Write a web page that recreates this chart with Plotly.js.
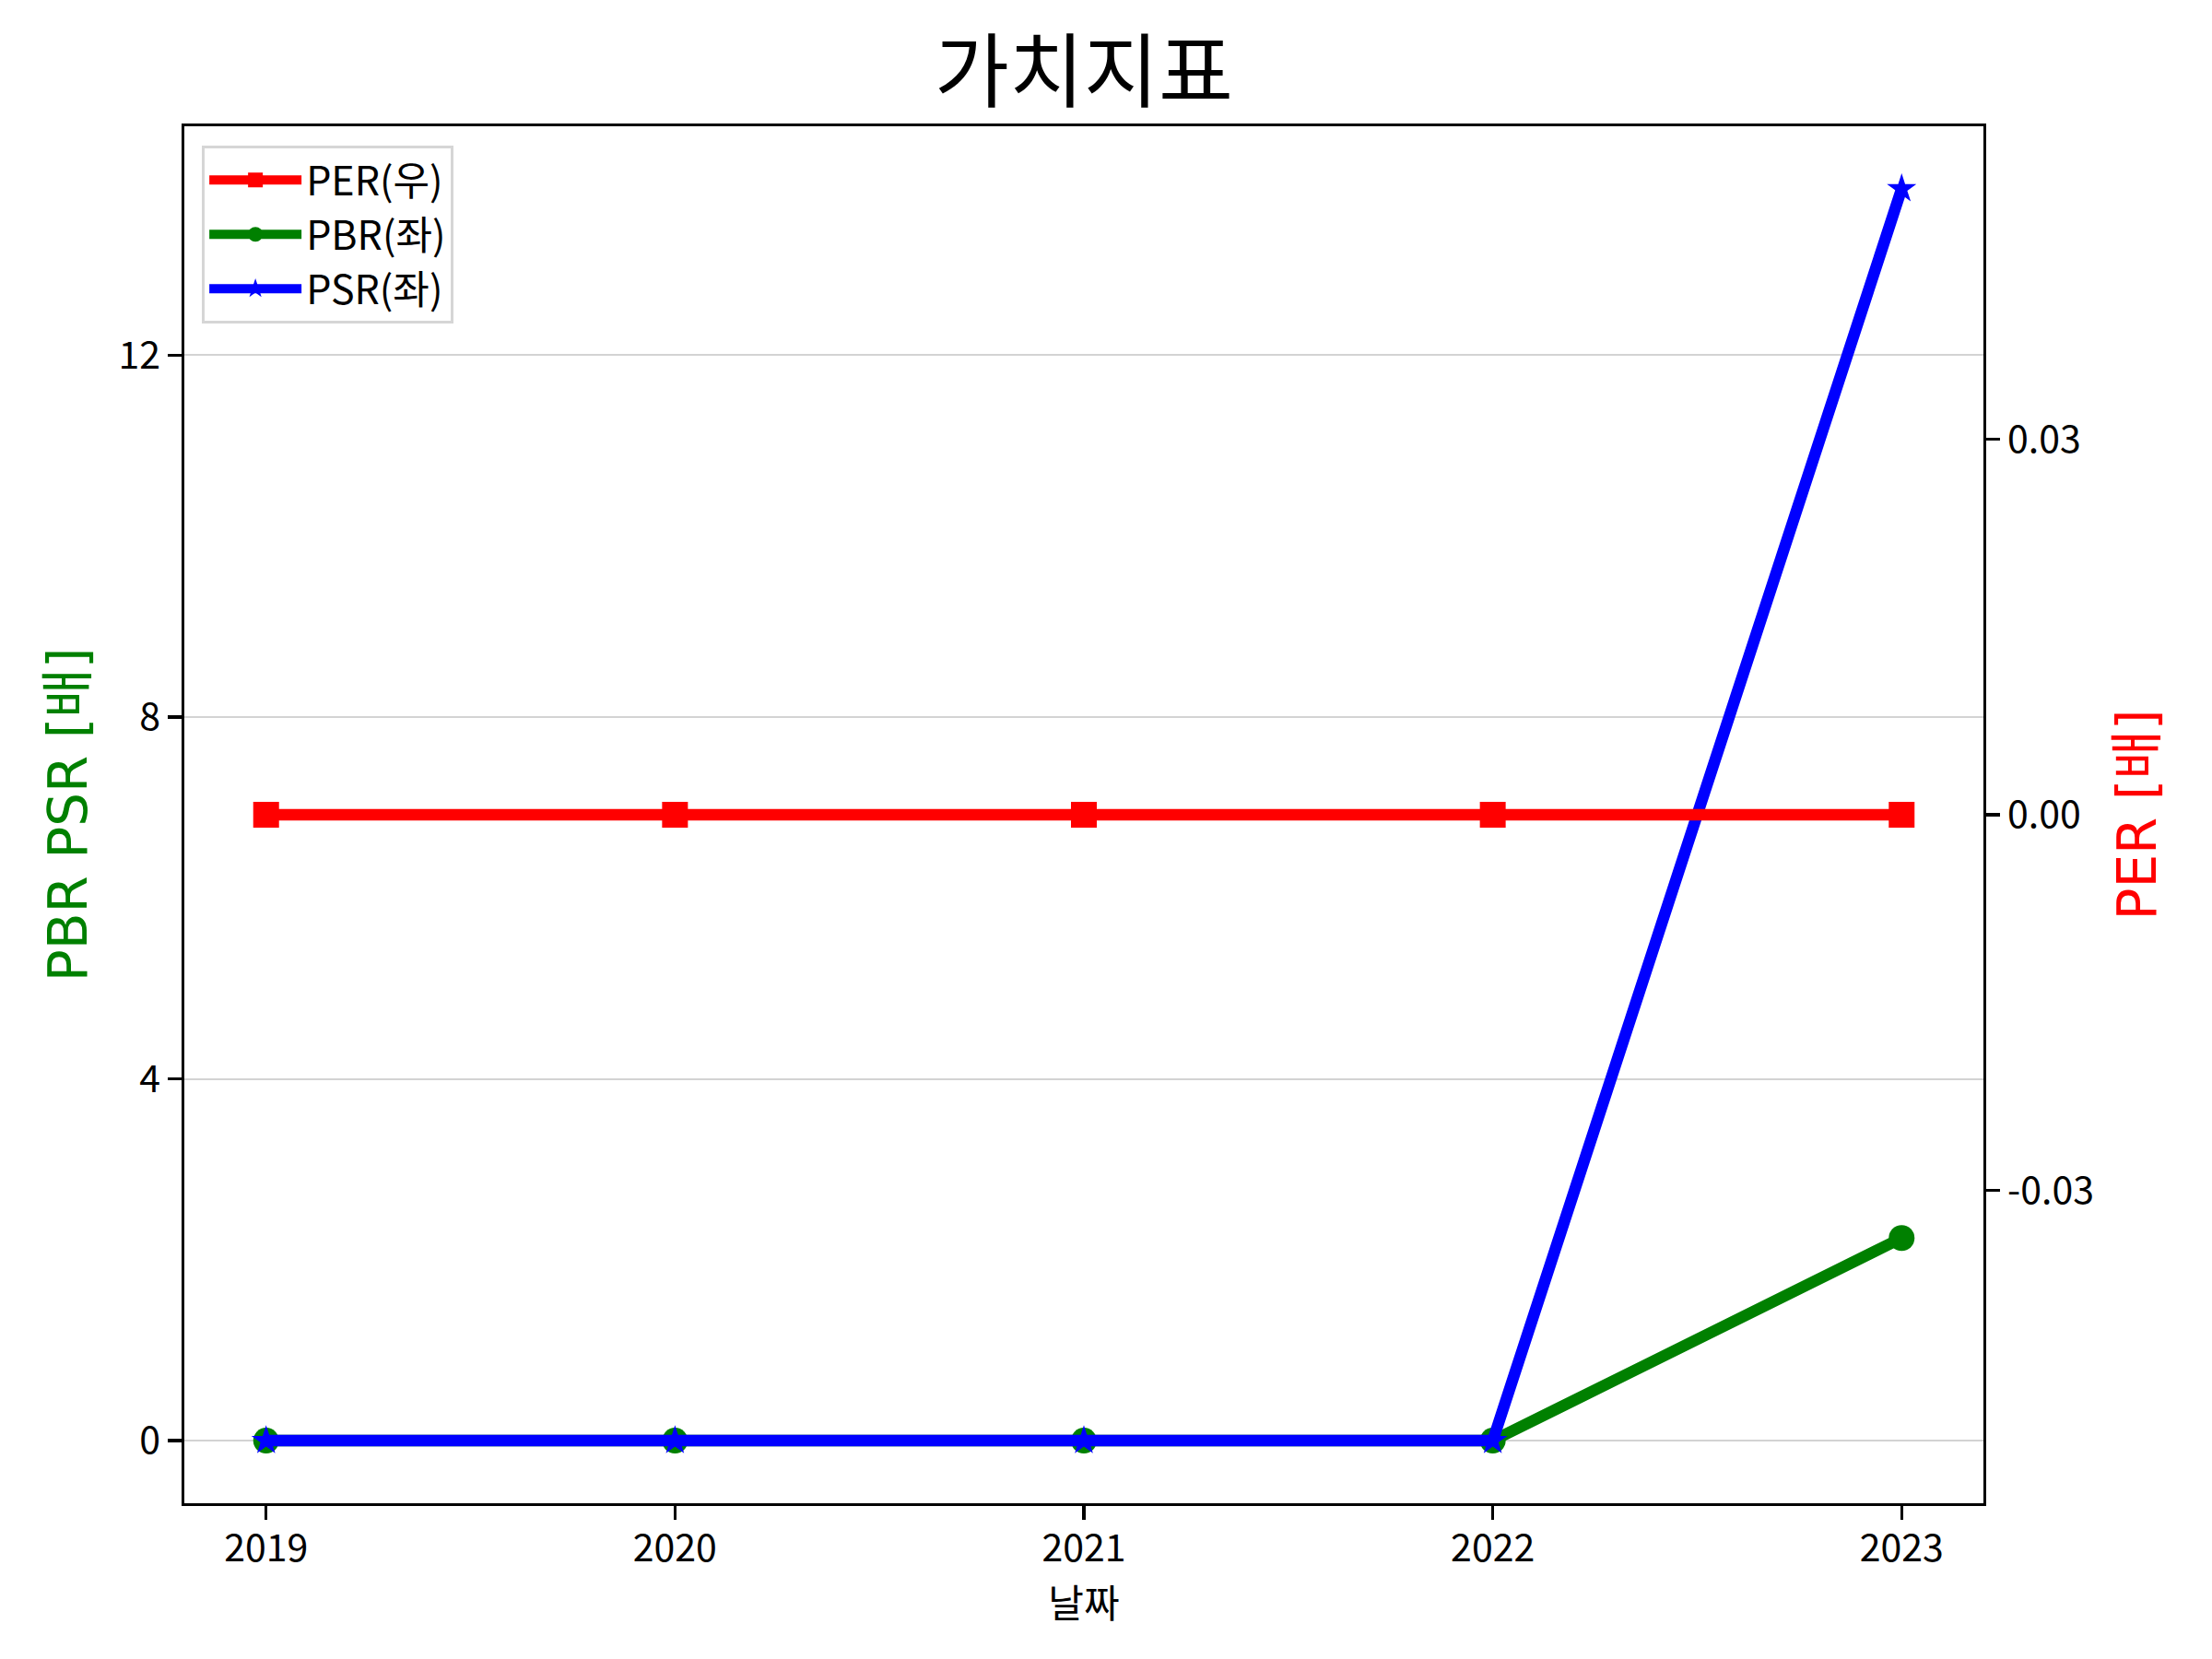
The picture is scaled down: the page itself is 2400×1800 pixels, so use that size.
<!DOCTYPE html>
<html>
<head>
<meta charset="utf-8">
<script src="https://cdn.plot.ly/plotly-3.0.1.min.js"></script>
<style>html,body{margin:0;padding:0;background:#fff;}</style>
</head>
<body>
<div id="chart" style="width:2400px;height:1800px;"></div>
<script>
const years = [2019, 2020, 2021, 2022, 2023];
const perValues = [0, 0, 0, 0, 0];
const pbrValues = [0, 0, 0, 0, 2.24];
const psrValues = [0, 0, 0, 0, 13.84];
const leftTicks = [0, 4, 8, 12];
const rightTicks = [-0.03, 0, 0.03];
const rightTickText = ['-0.03', '0.00', '0.03'];
const yearTickText = ['2019', '2020', '2021', '2022', '2023'];

const tickFont = {family: 'Noto Sans CJK KR, Open Sans, sans-serif', size: 41, color: '#000'};
const labelFont = 'DejaVu Sans, Noto Sans CJK KR, sans-serif';

const leftMax = Math.max(...pbrValues, ...psrValues);
const leftMin = Math.min(...pbrValues, ...psrValues);
const span = leftMax - leftMin;

const traces = [
  {
    x: years, y: pbrValues, name: 'PBR(좌)', type: 'scatter', mode: 'lines+markers',
    line: {color: 'green', width: 12.5}, marker: {symbol: 'circle', size: 28, color: 'green'},
    yaxis: 'y', legendrank: 2
  },
  {
    x: years, y: psrValues, name: 'PSR(좌)', type: 'scatter', mode: 'lines+markers',
    line: {color: 'blue', width: 12.5}, marker: {symbol: 'star', size: 24, color: 'blue'},
    yaxis: 'y', legendrank: 3
  },
  {
    x: years, y: perValues, name: 'PER(우)', type: 'scatter', mode: 'lines+markers',
    line: {color: 'red', width: 12.5}, marker: {symbol: 'square', size: 28, color: 'red'},
    yaxis: 'y2', legendrank: 1
  }
];

const layout = {
  width: 2400, height: 1800,
  paper_bgcolor: '#fff', plot_bgcolor: '#fff',
  margin: {l: 200, r: 248, t: 137, b: 169, pad: 0},
  showlegend: true,
  title: {
    text: '가치지표', x: 0.5, xref: 'paper', xanchor: 'center',
    y: 1 - 78 / 1800, yref: 'container', yanchor: 'middle',
    font: {family: 'Noto Sans CJK KR, sans-serif', size: 88, color: '#000'}
  },
  xaxis: {
    range: [2018.8, 2023.2], tickvals: years, ticktext: yearTickText,
    showgrid: false, zeroline: false,
    showline: true, linecolor: '#000', linewidth: 3.3, mirror: true,
    ticks: 'outside', ticklen: 14.6, tickwidth: 3.3, tickcolor: '#000',
    tickfont: tickFont, ticklabelstandoff: -4,
    title: {text: '날짜', font: {family: 'Noto Sans CJK KR, sans-serif', size: 42, color: '#000'}, standoff: 0}
  },
  yaxis: {
    range: [leftMin - 0.05 * span, leftMax + 0.05 * span],
    tickvals: leftTicks, ticktext: leftTicks.map(String),
    showgrid: true, gridcolor: '#d3d3d3', gridwidth: 2, zeroline: false,
    showline: true, linecolor: '#000', linewidth: 3.3,
    ticks: 'outside', ticklen: 14.6, tickwidth: 3.3, tickcolor: '#000',
    tickfont: tickFont,
    title: {text: 'PBR PSR [배]', font: {family: labelFont, size: 58, color: 'green'}, standoff: 16}
  },
  yaxis2: {
    overlaying: 'y', side: 'right',
    range: [-0.055, 0.055],
    tickvals: rightTicks, ticktext: rightTickText,
    showgrid: false, zeroline: false,
    showline: true, linecolor: '#000', linewidth: 3.3,
    ticks: 'outside', ticklen: 14.6, tickwidth: 3.3, tickcolor: '#000',
    tickfont: tickFont,
    title: {text: 'PER [배]', font: {family: labelFont, size: 58, color: 'red'}, standoff: 28}
  },
  legend: {
    x: 0.0098, y: 0.986, xanchor: 'left', yanchor: 'top',
    bgcolor: 'rgba(255,255,255,0.8)', bordercolor: '#d6d6d6', borderwidth: 3,
    font: {family: 'Noto Sans CJK KR, sans-serif', size: 43, color: '#000'},
    traceorder: 'normal', itemwidth: 100, tracegroupgap: 0
  }
};

Plotly.newPlot('chart', traces, layout, {staticPlot: true, displayModeBar: false});
</script>
</body>
</html>
